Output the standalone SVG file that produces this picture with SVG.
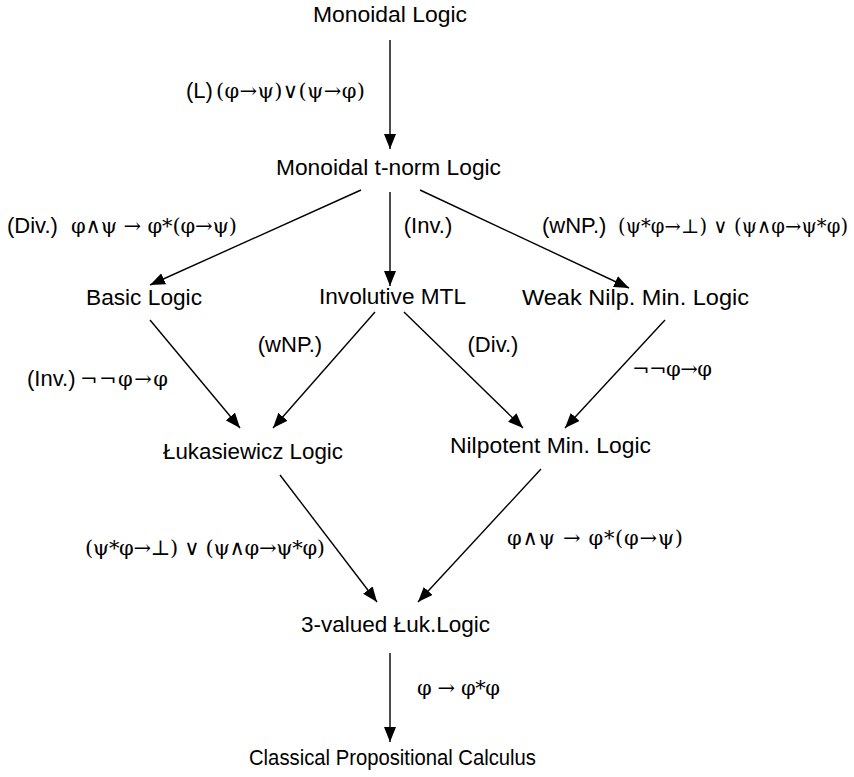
<svg xmlns="http://www.w3.org/2000/svg" width="854" height="777" viewBox="0 0 854 777">
<style>
text{font-family:"Liberation Sans",Arial,sans-serif;font-size:22px;fill:#000}
.g{font-family:"DejaVu Serif","Liberation Serif",serif;font-size:21px}
.e line{stroke:#000;stroke-width:1.4;marker-end:url(#ah)}
</style>
<defs>
<marker id="ah" markerUnits="userSpaceOnUse" markerWidth="16" markerHeight="12" refX="15" refY="6" orient="auto"><path d="M0,0 L15,6 L0,12 z" fill="#000"/></marker>
</defs>
<rect width="854" height="777" fill="#fff"/>
<g id="n1"><text x="313" y="22" textLength="154" lengthAdjust="spacingAndGlyphs">Monoidal Logic</text></g>
<g id="n2"><text x="276" y="175" textLength="225" lengthAdjust="spacingAndGlyphs">Monoidal t-norm Logic</text></g>
<g id="n3"><text x="86" y="305" textLength="116" lengthAdjust="spacingAndGlyphs">Basic Logic</text></g>
<g id="n4"><text x="319" y="304" textLength="147" lengthAdjust="spacingAndGlyphs">Involutive MTL</text></g>
<g id="n5"><text x="522" y="305" textLength="227" lengthAdjust="spacingAndGlyphs">Weak Nilp. Min. Logic</text></g>
<g id="n6"><text x="163" y="459" textLength="180" lengthAdjust="spacingAndGlyphs">Łukasiewicz Logic</text></g>
<g id="n7"><text x="450" y="453" textLength="201" lengthAdjust="spacingAndGlyphs">Nilpotent Min. Logic</text></g>
<g id="n8"><text x="301" y="632" textLength="189" lengthAdjust="spacingAndGlyphs">3-valued Łuk.Logic</text></g>
<g id="n9"><text x="249" y="765" textLength="287" lengthAdjust="spacingAndGlyphs">Classical Propositional Calculus</text></g>
<g id="edges" class="e">
<line x1="390" y1="40" x2="390" y2="149"/>
<line x1="361" y1="190" x2="150" y2="285"/>
<line x1="390" y1="192" x2="390" y2="286"/>
<line x1="420" y1="190" x2="629" y2="288"/>
<line x1="150" y1="320" x2="240" y2="428"/>
<line x1="375" y1="312" x2="273" y2="428"/>
<line x1="404" y1="312" x2="523" y2="428"/>
<line x1="665" y1="320" x2="565" y2="428"/>
<line x1="280" y1="475" x2="377" y2="602"/>
<line x1="541" y1="469" x2="418" y2="602"/>
<line x1="390" y1="653" x2="390" y2="742"/>
</g>
<g id="labels">
<text x="186" y="98">(L)</text>
<text class="g" x="216" y="98" textLength="149" lengthAdjust="spacing">(φ→ψ)∨(ψ→φ)</text>
<text x="7" y="233">(Div.)</text>
<text class="g" x="71" y="233" textLength="166" lengthAdjust="spacing">φ∧ψ → φ*(φ→ψ)</text>
<text x="428" y="233" text-anchor="middle">(Inv.)</text>
<text x="542" y="233">(wNP.)</text>
<text class="g" x="618" y="233" style="font-size:19.5px" textLength="230" lengthAdjust="spacing">(ψ*φ→⊥) ∨ (ψ∧φ→ψ*φ)</text>
<text x="290" y="352" text-anchor="middle">(wNP.)</text>
<text x="493" y="352" text-anchor="middle">(Div.)</text>
<text x="27" y="386">(Inv.)</text>
<text class="g" x="80" y="386" textLength="88" lengthAdjust="spacing">¬¬φ→φ</text>
<text class="g" x="632" y="376" textLength="80" lengthAdjust="spacing">¬¬φ→φ</text>
<text class="g" x="85" y="555" textLength="240" lengthAdjust="spacing">(ψ*φ→⊥) ∨ (ψ∧φ→ψ*φ)</text>
<text class="g" x="507" y="545" textLength="176" lengthAdjust="spacing">φ∧ψ → φ*(φ→ψ)</text>
<text class="g" x="417" y="695" textLength="83" lengthAdjust="spacing">φ → φ*φ</text>
</g>
</svg>
